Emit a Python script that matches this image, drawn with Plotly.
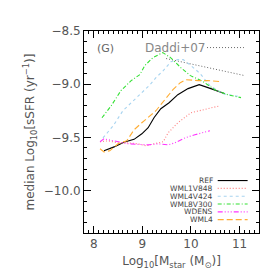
import plotly.graph_objects as go

# ---- data ----
ref_x = [8.21, 8.42, 8.62, 8.83, 8.99, 9.12, 9.24, 9.38, 9.55, 9.73, 9.94, 10.17, 10.41, 10.70]
ref_y = [-9.627, -9.59, -9.547, -9.519, -9.467, -9.41, -9.316, -9.231, -9.175, -9.099, -9.042, -9.005, -9.042, -9.09]

wml1v848_x = [8.13, 8.29, 8.50, 8.71, 8.91, 9.08, 9.24, 9.43, 9.53, 9.73, 10.00, 10.29, 10.60]
wml1v848_y = [-9.542, -9.533, -9.552, -9.552, -9.561, -9.58, -9.561, -9.542, -9.458, -9.363, -9.269, -9.238, -9.203]

wml4v424_x = [8.19, 8.40, 8.60, 8.77, 8.97, 9.16, 9.28, 9.43, 9.59, 9.73, 9.84, 10.00, 10.19, 10.39, 10.66, 11.01]
wml4v424_y = [-9.505, -9.392, -9.25, -9.175, -9.08, -9.005, -8.939, -8.873, -8.788, -8.769, -8.769, -8.825, -8.901, -9.014, -9.09, -9.118]

wml8v300_x = [8.17, 8.36, 8.56, 8.77, 8.95, 9.05, 9.22, 9.42, 9.58, 9.79, 9.99, 10.25, 10.49, 10.76, 11.03]
wml8v300_y = [-9.316, -9.203, -9.061, -8.967, -8.910, -8.825, -8.750, -8.703, -8.75, -8.844, -8.92, -8.976, -9.052, -9.10, -9.127]

wdens_x = [8.13, 8.21, 8.31, 8.50, 8.71, 8.91, 9.12, 9.32, 9.53, 9.67, 9.88, 10.08, 10.39]
wdens_y = [-9.542, -9.514, -9.524, -9.542, -9.561, -9.566, -9.571, -9.561, -9.571, -9.552, -9.505, -9.476, -9.439]

wml4_x = [8.13, 8.21, 8.33, 8.50, 8.68, 8.83, 8.99, 9.16, 9.28, 9.38, 9.49, 9.63, 9.78, 9.90, 10.15, 10.35, 10.60]
wml4_y = [-9.608, -9.637, -9.627, -9.561, -9.533, -9.429, -9.363, -9.297, -9.25, -9.193, -9.127, -9.052, -8.986, -8.958, -8.967, -8.967, -8.976]

daddi_x = [9.49, 11.11]
daddi_y = [-8.759, -8.92]

x_ticks = [8, 9, 10, 11]
y_ticks = [-8.5, -9.0, -9.5, -10.0]
y_tick_labels = ["\u22128.5", "\u22129.0", "\u22129.5", "\u221210.0"]

series = [
    ("REF", ref_x, ref_y, "#000000", "solid"),
    ("WML1V848", wml1v848_x, wml1v848_y, "#ff7f7f", "1px,2px"),
    ("WML4V424", wml4v424_x, wml4v424_y, "#a8d4f0", "3px,3px"),
    ("WML8V300", wml8v300_x, wml8v300_y, "#33e033", "4px,2px,1px,2px"),
    ("WDENS", wdens_x, wdens_y, "#ff33ff", "5px,2px,1px,2px,1px,2px,1px,2px"),
    ("WML4", wml4_x, wml4_y, "#ffad33", "6px,3px"),
]

fig = go.Figure()
fig.add_trace(go.Scatter(x=daddi_x, y=daddi_y, mode="lines",
                         line=dict(color="#666666", width=1, dash="1px,2px"),
                         showlegend=False))
for name, xs, ys, col, dash in series:
    fig.add_trace(go.Scatter(x=xs, y=ys, mode="lines", name=name,
                             line=dict(color=col, width=1.1, dash=dash),
                             showlegend=False))

# legend (IDL style: text right-aligned, sample to the right)
y0 = 0.2596
step = 0.0387
for i, (name, xs, ys, col, dash) in enumerate(series):
    yy = y0 - i * step
    fig.add_shape(type="line", xref="paper", yref="paper",
                  x0=0.764, x1=0.935, y0=yy, y1=yy,
                  line=dict(color=col, width=1.1, dash=dash))
    fig.add_annotation(xref="paper", yref="paper", x=0.745, y=yy,
                       text=name, showarrow=False, xanchor="right", yanchor="middle",
                       borderpad=0,
                       font=dict(family="DejaVu Sans", size=7.5, color="#444444"))

fig.add_shape(type="line", xref="paper", yref="paper",
              x0=0.703, x1=0.914, y0=0.918, y1=0.918,
              line=dict(color="#666666", width=1, dash="1px,2px"))
fig.add_annotation(xref="paper", yref="paper", x=0.71, y=0.918, text="Daddi+07",
                   showarrow=False, xanchor="right", yanchor="middle",
                   font=dict(family="DejaVu Sans", size=12, color="#888888"))
fig.add_annotation(xref="paper", yref="paper", x=0.12, y=0.913, text="(G)",
                   showarrow=False, xanchor="center", yanchor="middle",
                   font=dict(family="DejaVu Sans", size=11, color="#666666"))

axis_common = dict(showline=True, linecolor="#000000", linewidth=1, mirror="ticks",
                   ticks="inside", ticklen=7, tickcolor="#000000", tickwidth=1,
                   showgrid=False, zeroline=False,
                   tickfont=dict(family="DejaVu Sans", size=12, color="#555555"),
                   minor=dict(ticks="inside", ticklen=3, dtick=0.1, tickcolor="#000000",
                              showgrid=False))

fig.update_xaxes(range=[7.8, 11.4], tickvals=x_ticks, ticktext=[str(v) for v in x_ticks],
                 title=dict(text="Log<sub>10</sub>[M<sub>star</sub> (M<sub>\u2299</sub>)]",
                            font=dict(family="DejaVu Sans", size=12, color="#555555"),
                            standoff=6),
                 **axis_common)
fig.update_yaxes(range=[-10.4, -8.5], tickvals=y_ticks, ticktext=y_tick_labels,
                 title=dict(text="median Log<sub>10</sub>[sSFR (yr<sup>\u22121</sup>)]",
                            font=dict(family="DejaVu Sans", size=12, color="#555555"),
                            standoff=6),
                 **axis_common)

fig.update_layout(width=274, height=274, margin=dict(l=76, r=23, t=23, b=49),
                  paper_bgcolor="white", plot_bgcolor="white", showlegend=False)

fig.write_html("out.html")
